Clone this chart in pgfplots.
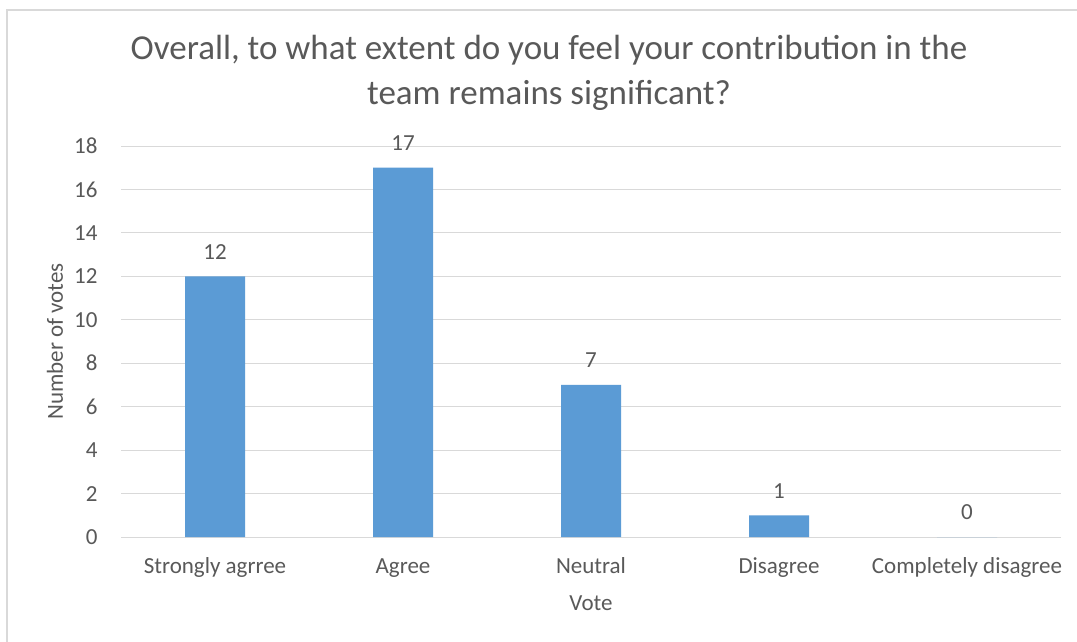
\documentclass[border=0pt]{standalone}
\usepackage{pgfplots}
\pgfplotsset{compat=1.18}
\usepackage{fontspec}
\setmainfont{Carlito}
\definecolor{barc}{HTML}{5B9BD5}
\definecolor{txt}{HTML}{595959}
\definecolor{gridc}{HTML}{D9D9D9}
\begin{document}
\begin{tikzpicture}[x=1pt,y=1pt]
\useasboundingbox[fill=white] (0,0) rectangle (1077,641);
\draw[gridc, line width=1.5pt] (7,-5) -- (7,631) -- (1090,631);
\node[text=txt, align=center, font=\fontsize{35}{45}\selectfont] at (549,568) {Overall, to what extent do you feel your contribution in the\\team remains significant?};
\begin{axis}[
  at={(121pt,104pt)}, anchor=south west,
  scale only axis, width=940pt, height=391pt,
  xmin=-0.5, xmax=4.5, ymin=0, ymax=18,
  ytick={0,2,...,18},
  xtick={0,1,2,3,4},
  xticklabels={Strongly agrree,Agree,Neutral,Disagree,Completely disagree},
  ybar, bar width=60pt,
  ymajorgrids, grid style={gridc, line width=1pt},
  axis x line*=bottom, axis y line*=left,
  x axis line style={gridc, line width=1pt, -},
  y axis line style={draw=none},
  major tick length=0pt,
  /pgf/number format/assume math mode=true,
  tick label style={text=txt, font=\fontsize{23}{26}\selectfont},
  xticklabel style={anchor=base, yshift=-36pt},
  yticklabel style={anchor=east, xshift=-20pt},
  xlabel={Vote}, ylabel={Number of votes},
  label style={text=txt, font=\fontsize{23}{26}\selectfont},
  xlabel style={at={(axis description cs:0.5,-0.1688)}, anchor=center},
  ylabel style={at={(axis description cs:-0.0702,0.5)}, anchor=center},
  nodes near coords,
  nodes near coords style={text=txt, font=\fontsize{23}{26}\selectfont, anchor=south, inner sep=0pt, yshift=17pt},
]
\addplot[fill=barc, draw=none] coordinates {(0,12) (1,17) (2,7) (3,1) (4,0)};
\end{axis}
\end{tikzpicture}
\end{document}
